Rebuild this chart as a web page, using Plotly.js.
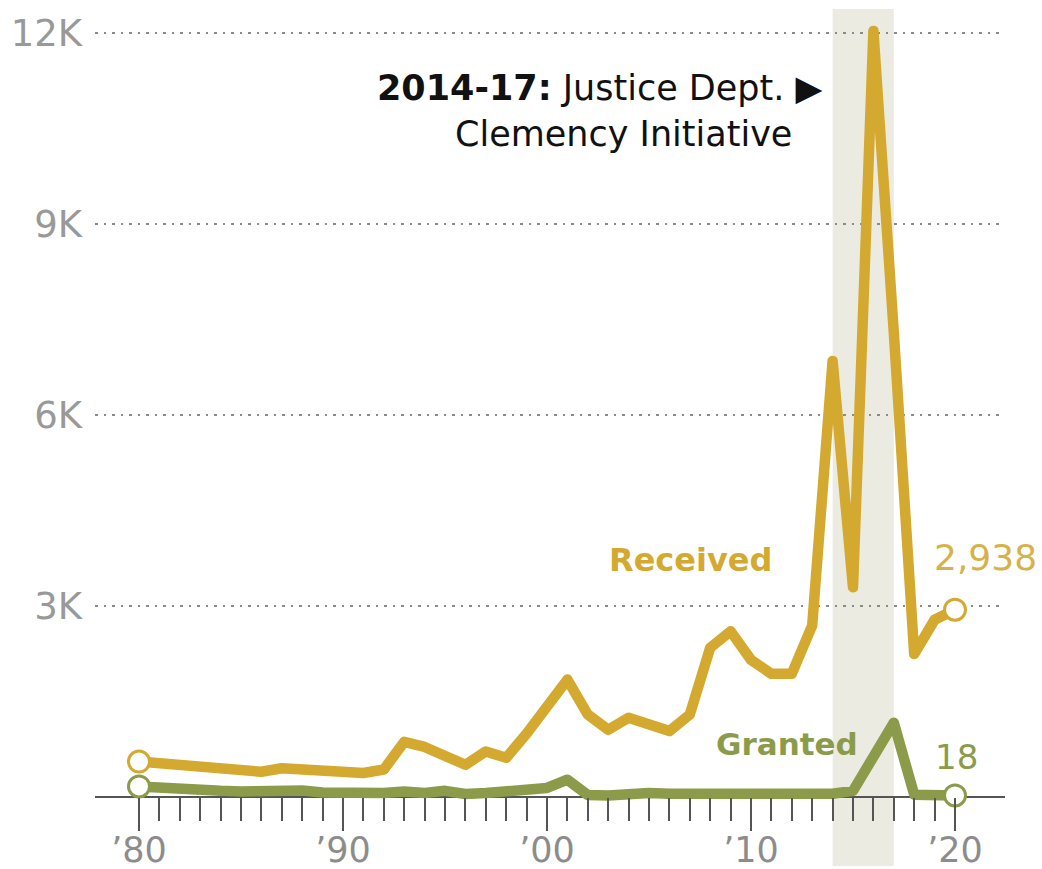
<!DOCTYPE html>
<html>
<head>
<meta charset="utf-8">
<script src="https://cdn.plot.ly/plotly-3.0.1.min.js"></script>
<style>
  html, body { margin: 0; padding: 0; background: #fff; }
  #chart { width: 1042px; height: 869px; }
</style>
</head>
<body>
<div id="chart"></div>
<script>
// ---- Data ----
const years = [1980,1981,1982,1983,1984,1985,1986,1987,1988,1989,
               1990,1991,1992,1993,1994,1995,1996,1997,1998,1999,
               2000,2001,2002,2003,2004,2005,2006,2007,2008,2009,
               2010,2011,2012,2013,2014,2015,2016,2017,2018,2019,2020];
const received = [550,530,475,460,455,435,390,445,425,415,
                  400,370,425,860,780,640,500,710,610,990,
                  1400,1840,1290,1050,1240,1120,1030,1290,2340,2600,
                  2150,1930,1930,2690,6850,3290,12040,7300,2240,2780,2938];
const granted = [160,135,110,125,90,80,90,80,95,65,
                 55,65,55,80,55,90,40,55,70,100,
                 135,265,25,15,40,55,45,40,70,65,
                 25,30,40,35,45,90,600,1160,30,25,18];
const initiativeYears = [2014, 2017];
const xTickVals = [1980, 1990, 2000, 2010, 2020];
const xTickText = ['\u201980', '\u201990', '\u201900', '\u201910', '\u201920'];
const yTickVals = [3000, 6000, 9000, 12000];
const yTickText = ['3K', '6K', '9K', '12K'];

// ---- Style ----
const GOLD = '#d4a930';
const GOLD_LABEL = '#d6b24a';
const OLIVE = '#8b9b4a';
const FONT = 'DejaVu Sans, Liberation Sans, sans-serif';

// plot-area pixel frame
const L = 95, R = 1005, T = 8, B = 822;
const YMIN = -400, YMAX = 12400;
function px(x) { return (x - L) / (R - L); }
function py(y) { return (B - y) / (B - T); }

// minor ticks: every year that is not a labelled decade
const minorTicks = [];
for (let y = xTickVals[0]; y <= xTickVals[xTickVals.length - 1]; y++) {
  if (xTickVals.indexOf(y) < 0) minorTicks.push(y);
}

const last = years.length - 1;
const traces = [
  { x: years, y: received, type: 'scatter', mode: 'lines',
    line: { color: GOLD, width: 10.5 }, hoverinfo: 'skip' },
  { x: years, y: granted, type: 'scatter', mode: 'lines',
    line: { color: OLIVE, width: 10.5 }, hoverinfo: 'skip' },
  { x: [years[0], years[last]], y: [received[0], received[last]], type: 'scatter', mode: 'markers',
    marker: { symbol: 'circle', size: 21, color: '#ffffff', line: { color: GOLD, width: 3 } },
    cliponaxis: false, hoverinfo: 'skip' },
  { x: [years[0], years[last]], y: [granted[0], granted[last]], type: 'scatter', mode: 'markers',
    marker: { symbol: 'circle', size: 21, color: '#ffffff', line: { color: OLIVE, width: 3 } },
    cliponaxis: false, hoverinfo: 'skip' }
];

const layout = {
  width: 1042, height: 869,
  margin: { l: L, r: 1042 - R, t: T, b: 869 - B },
  paper_bgcolor: '#ffffff', plot_bgcolor: 'rgba(0,0,0,0)',
  showlegend: false,
  font: { family: FONT },
  xaxis: {
    range: [1977.843, 2022.451],
    anchor: 'free',
    position: (0 - YMIN) / (YMAX - YMIN),
    tickmode: 'array', tickvals: xTickVals, ticktext: xTickText,
    ticks: 'outside', ticklen: 33, tickwidth: 2, tickcolor: '#555555',
    ticklabelstandoff: -11,
    minor: { tickmode: 'array', tickvals: minorTicks, ticks: 'outside',
             ticklen: 23, tickwidth: 2, tickcolor: '#555555', showgrid: false },
    tickfont: { family: FONT, size: 35, color: '#8c8c8c' },
    showgrid: false, zeroline: false, showline: false,
    fixedrange: true
  },
  yaxis: {
    range: [YMIN, YMAX],
    tickmode: 'array', tickvals: yTickVals, ticktext: yTickText,
    ticks: '',
    ticklabelstandoff: 12,
    tickfont: { family: FONT, size: 37, color: '#999999' },
    showgrid: true, gridcolor: '#8a8a8a', gridwidth: 2, griddash: '2.5px,6px',
    zeroline: true, zerolinecolor: '#555555', zerolinewidth: 2,
    showline: false, fixedrange: true
  },
  shapes: [
    { type: 'rect', xref: 'x', yref: 'paper',
      x0: initiativeYears[0], x1: initiativeYears[1],
      y0: py(866), y1: py(9),
      fillcolor: '#ebebe1', line: { width: 0 }, layer: 'below' }
  ],
  annotations: [
    { xref: 'paper', yref: 'paper', x: px(825), y: py(88), xanchor: 'right', yanchor: 'middle',
      text: '<b>2014-17:</b> Justice Dept. \u25B6', showarrow: false,
      font: { family: FONT, size: 35, color: '#111111' } },
    { xref: 'paper', yref: 'paper', x: px(453), y: py(134), xanchor: 'left', yanchor: 'middle',
      text: 'Clemency Initiative', showarrow: false,
      font: { family: FONT, size: 35, color: '#111111' } },
    { xref: 'paper', yref: 'paper', x: px(690), y: py(560), xanchor: 'center', yanchor: 'middle',
      text: '<b>Received</b>', showarrow: false,
      font: { family: FONT, size: 32, color: GOLD } },
    { xref: 'paper', yref: 'paper', x: px(787), y: py(744), xanchor: 'center', yanchor: 'middle',
      text: '<b>Granted</b>', showarrow: false,
      font: { family: FONT, size: 31, color: OLIVE } },
    { xref: 'paper', yref: 'paper', x: px(985), y: py(557), xanchor: 'center', yanchor: 'middle',
      text: '2,938', showarrow: false,
      font: { family: FONT, size: 36, color: GOLD_LABEL } },
    { xref: 'paper', yref: 'paper', x: px(956), y: py(757), xanchor: 'center', yanchor: 'middle',
      text: '18', showarrow: false,
      font: { family: FONT, size: 34, color: OLIVE } }
  ]
};

Plotly.newPlot('chart', traces, layout, { staticPlot: true, displayModeBar: false }).then(function () {
  document.querySelectorAll('.scatterlayer .js-line').forEach(function (p) {
    p.setAttribute('stroke-linejoin', 'round');
    p.setAttribute('stroke-linecap', 'round');
    p.style.strokeLinejoin = 'round';
    p.style.strokeLinecap = 'round';
  });
});
</script>
</body>
</html>
